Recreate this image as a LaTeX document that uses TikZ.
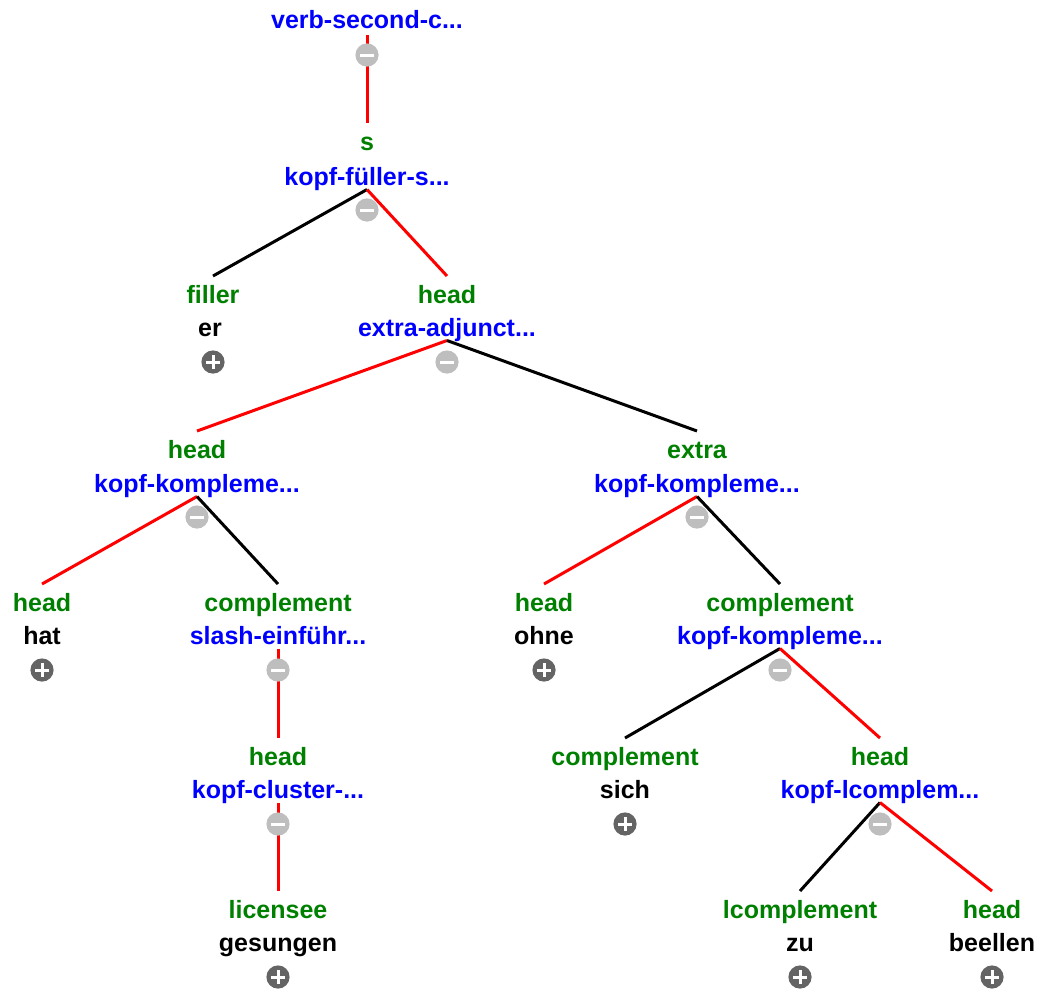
\documentclass[tikz,border=0pt]{standalone}
\usepackage{fontspec}
\setmainfont{Liberation Sans}
\definecolor{rolegreen}{RGB}{0,128,0}
\definecolor{typeblue}{RGB}{0,0,255}
\definecolor{headred}{RGB}{255,0,0}
\definecolor{openicon}{RGB}{100,100,100}
\definecolor{closeicon}{RGB}{190,190,190}
\tikzset{
  txt/.style={inner sep=0pt, text height=0.7em, text depth=0.2em, yshift=-1.75pt,
    font=\fontsize{12.5}{15}\selectfont\bfseries},
  role/.style={txt, text=rolegreen, outer sep=6.75pt},
  type/.style={txt, text=typeblue, outer sep=0pt},
  word/.style={txt, text=black, outer sep=0pt},
  hd/.style={draw=headred, line width=1.5pt},
  nh/.style={draw=black, line width=1.5pt},
  expand/.pic={
    \fill[openicon] (0,0) circle (5.8pt);
    \draw[white, line width=1.5pt] (-3.3pt,0) -- (3.3pt,0) (0,-3.3pt) -- (0,3.3pt);
  },
  collapse/.pic={
    \fill[closeicon] (0,0) circle (5.8pt);
    \draw[white, line width=1.5pt] (-3.3pt,0) -- (3.3pt,0);
  }
}
\begin{document}
\begin{tikzpicture}[x=0.5pt, y=-0.5pt]
\useasboundingbox (0,0) rectangle (1039,992);

% labels: role (green), category/word, icon
\node[type, outer sep=1.25pt] (r0t) at (367,20) {verb-second-c...};

\node[role] (n1r) at (367,142) {s};
\node[type] (n1t) at (367,177) {kopf-füller-s...};

\node[role] (n2r) at (213,295) {filler};
\node[word] (n2t) at (210,328) {er};

\node[role] (n3r) at (447,295) {head};
\node[type] (n3t) at (447,328) {extra-adjunct...};

\node[role] (n4r) at (197,450) {head};
\node[type] (n4t) at (197,484) {kopf-kompleme...};

\node[role] (n5r) at (697,450) {extra};
\node[type] (n5t) at (697,484) {kopf-kompleme...};

\node[role] (n6r) at (42,603) {head};
\node[word] (n6t) at (42,636) {hat};

\node[role] (n7r) at (278,603) {complement};
\node[type] (n7t) at (278,636) {slash-einführ...};

\node[role] (n8r) at (278,757) {head};
\node[type] (n8t) at (278,790) {kopf-cluster-...};

\node[role] (n9r) at (278,910) {licensee};
\node[word] (n9t) at (278,943) {gesungen};

\node[role] (n10r) at (544,603) {head};
\node[word] (n10t) at (544,636) {ohne};

\node[role] (n11r) at (780,603) {complement};
\node[type] (n11t) at (780,636) {kopf-kompleme...};

\node[role] (n12r) at (625,757) {complement};
\node[word] (n12t) at (625,790) {sich};

\node[role] (n13r) at (880,757) {head};
\node[type] (n13t) at (880,790) {kopf-lcomplem...};

\node[role] (n14r) at (800,910) {lcomplement};
\node[word] (n14t) at (800,943) {zu};

\node[role] (n15r) at (992,910) {head};
\node[word] (n15t) at (992,943) {beellen};

% branches: head daughters in red, non-head daughters in black
\path[hd] (r0t.south) -- (n1r.north);
\path[nh] (n1t.south) -- (n2r.north);
\path[hd] (n1t.south) -- (n3r.north);
\path[hd] (n3t.south) -- (n4r.north);
\path[nh] (n3t.south) -- (n5r.north);
\path[hd] (n4t.south) -- (n6r.north);
\path[nh] (n4t.south) -- (n7r.north);
\path[hd] (n7t.south) -- (n8r.north);
\path[hd] (n8t.south) -- (n9r.north);
\path[hd] (n5t.south) -- (n10r.north);
\path[nh] (n5t.south) -- (n11r.north);
\path[nh] (n11t.south) -- (n12r.north);
\path[hd] (n11t.south) -- (n13r.north);
\path[nh] (n13t.south) -- (n14r.north);
\path[hd] (n13t.south) -- (n15r.north);

% expand / collapse buttons
\pic at (367,55) {collapse};
\pic at (367,210) {collapse};
\pic at (213,362) {expand};
\pic at (447,362) {collapse};
\pic at (197,517) {collapse};
\pic at (697,517) {collapse};
\pic at (42,670) {expand};
\pic at (278,670) {collapse};
\pic at (278,824) {collapse};
\pic at (278,977) {expand};
\pic at (544,670) {expand};
\pic at (780,670) {collapse};
\pic at (625,824) {expand};
\pic at (880,824) {collapse};
\pic at (800,977) {expand};
\pic at (992,977) {expand};
\end{tikzpicture}
\end{document}
